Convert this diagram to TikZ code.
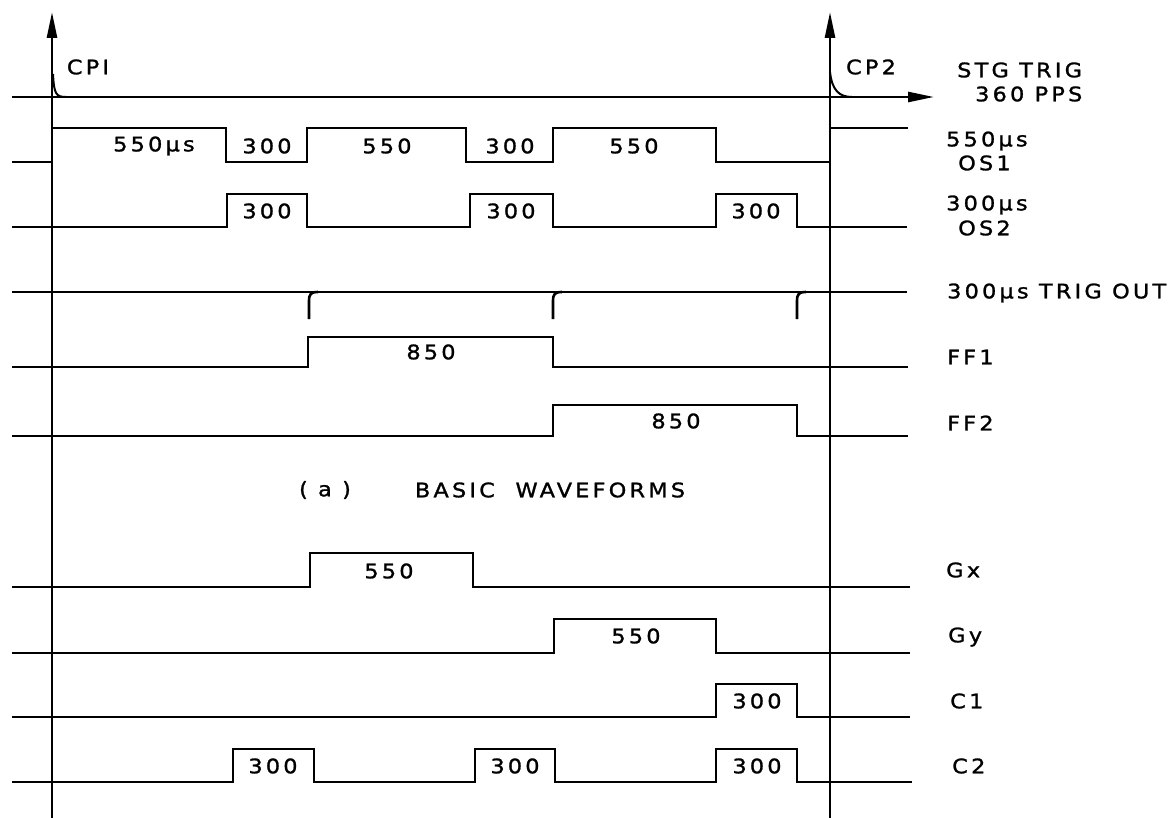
\documentclass[tikz,border=0pt]{standalone}
\usepackage{fontspec}
\setmainfont[LetterSpace=16,FakeStretch=1.12,FakeBold=1.3]{DejaVu Sans}
\usetikzlibrary{arrows.meta}
\tikzset{
  wave/.style={line width=2.6pt, line join=miter},
  axisline/.style={line width=2.6pt, -{Triangle[length=26pt,width=10pt]}},
  spike/.style={line width=2.6pt},
  lbl/.style={font=\fontsize{20}{23}\selectfont, inner sep=0pt},
  rlbl/.style={lbl, anchor=west},
}
\begin{document}
\begin{tikzpicture}[x=1pt,y=-1pt]
\useasboundingbox[fill=white] (0,0) rectangle (1174,818);
% axes
\coordinate (a1b) at (52,818);
\coordinate (a1t) at (52,12);
\coordinate (a2b) at (830,818);
\coordinate (a2t) at (830,12);
\coordinate (sL) at (12,97);
\coordinate (sR) at (934,97);
\draw[axisline] (a1b) -- (a1t);
\draw[axisline] (a2b) -- (a2t);
\draw[axisline] (sL) -- (sR);
% CP pulses
\draw[spike, line width=2pt] (53,74) .. controls (54,94) and (56,97) .. (66,97);
\draw[spike, line width=2pt] (830,72) .. controls (832,90) and (839,97) .. (852,97);
% OS1
\draw[wave] (12,162) -| (52,128) -| (226,162) -| (307,128) -| (466,162) -| (553,128) -| (716,162) -| (830,128) -- (908,128);
% OS2
\draw[wave] (12,227) -| (227,194) -| (307,227) -| (470,194) -| (553,227) -| (716,194) -| (797,227) -- (907,227);
% TRIG OUT
\draw[wave] (12,292) -- (907,292);
\foreach \sx in {309,553,797}{
  \draw[spike] (\sx,319) -- (\sx,301) .. controls (\sx,294) and (\sx+2,292) .. (\sx+9,292);
}
% FF1, FF2
\draw[wave] (12,367) -| (308,337) -| (553,367) -- (908,367);
\draw[wave] (12,436) -| (553,405) -| (797,436) -- (908,436);
% Gx, Gy, C1, C2
\draw[wave] (12,587) -| (310,553) -| (473,587) -- (910,587);
\draw[wave] (12,653) -| (554,619) -| (716,653) -- (910,653);
\draw[wave] (12,717) -| (716,684) -| (797,717) -- (910,717);
\draw[wave] (12,782) -| (233,749) -| (314,782) -| (475,749) -| (555,782) -| (716,749) -| (797,782) -- (912,782);
% labels in pulses
\node[lbl] (t1) at (154,146) {550µs};
\node[lbl] (t2) at (267,146) {300};
\node[lbl] (t3) at (387,146) {550};
\node[lbl] (t4) at (510,146) {300};
\node[lbl] (t5) at (634,146) {550};
\node[lbl] (t6) at (267,211) {300};
\node[lbl] (t7) at (511,211) {300};
\node[lbl] (t8) at (756,211) {300};
\node[lbl] (t9) at (431,352) {850};
\node[lbl] (t10) at (676,421) {850};
\node[lbl] (t11) at (389,571) {550};
\node[lbl] (t12) at (636,636) {550};
\node[lbl] (t13) at (757,701) {300};
\node[lbl] (t14) at (273,766) {300};
\node[lbl] (t15) at (515,766) {300};
\node[lbl] (t16) at (757,766) {300};
% CP labels
\node[lbl] (cp1) at (88,67) {CPI};
\node[lbl] (cp2) at (871,67) {CP2};
% caption
\node[lbl] (capa) at (325,490) {( a )};
\node[lbl] (capb) at (550,490) {BASIC\ \ WAVEFORMS};
% right labels
\node[rlbl] (r1) at (957,70) {STG TRIG};
\node[rlbl] (r2) at (975,94) {360 PPS};
\node[rlbl] (r3) at (946,141) {550µs};
\node[rlbl] (r4) at (958,163) {OS1};
\node[rlbl] (r5) at (946,205) {300µs};
\node[rlbl] (r6) at (958,228) {OS2};
\node[rlbl] (r7) at (947,293) {300µs TRIG OUT};
\node[rlbl] (r8) at (947,357) {FF1};
\node[rlbl] (r9) at (947,423) {FF2};
\node[rlbl] (r10) at (946,570) {G\,x};
\node[rlbl] (r11) at (948,637) {G\,y};
\node[rlbl] (r12) at (950,701) {C\,1};
\node[rlbl] (r13) at (952,766) {C\,2};
\end{tikzpicture}
\end{document}
